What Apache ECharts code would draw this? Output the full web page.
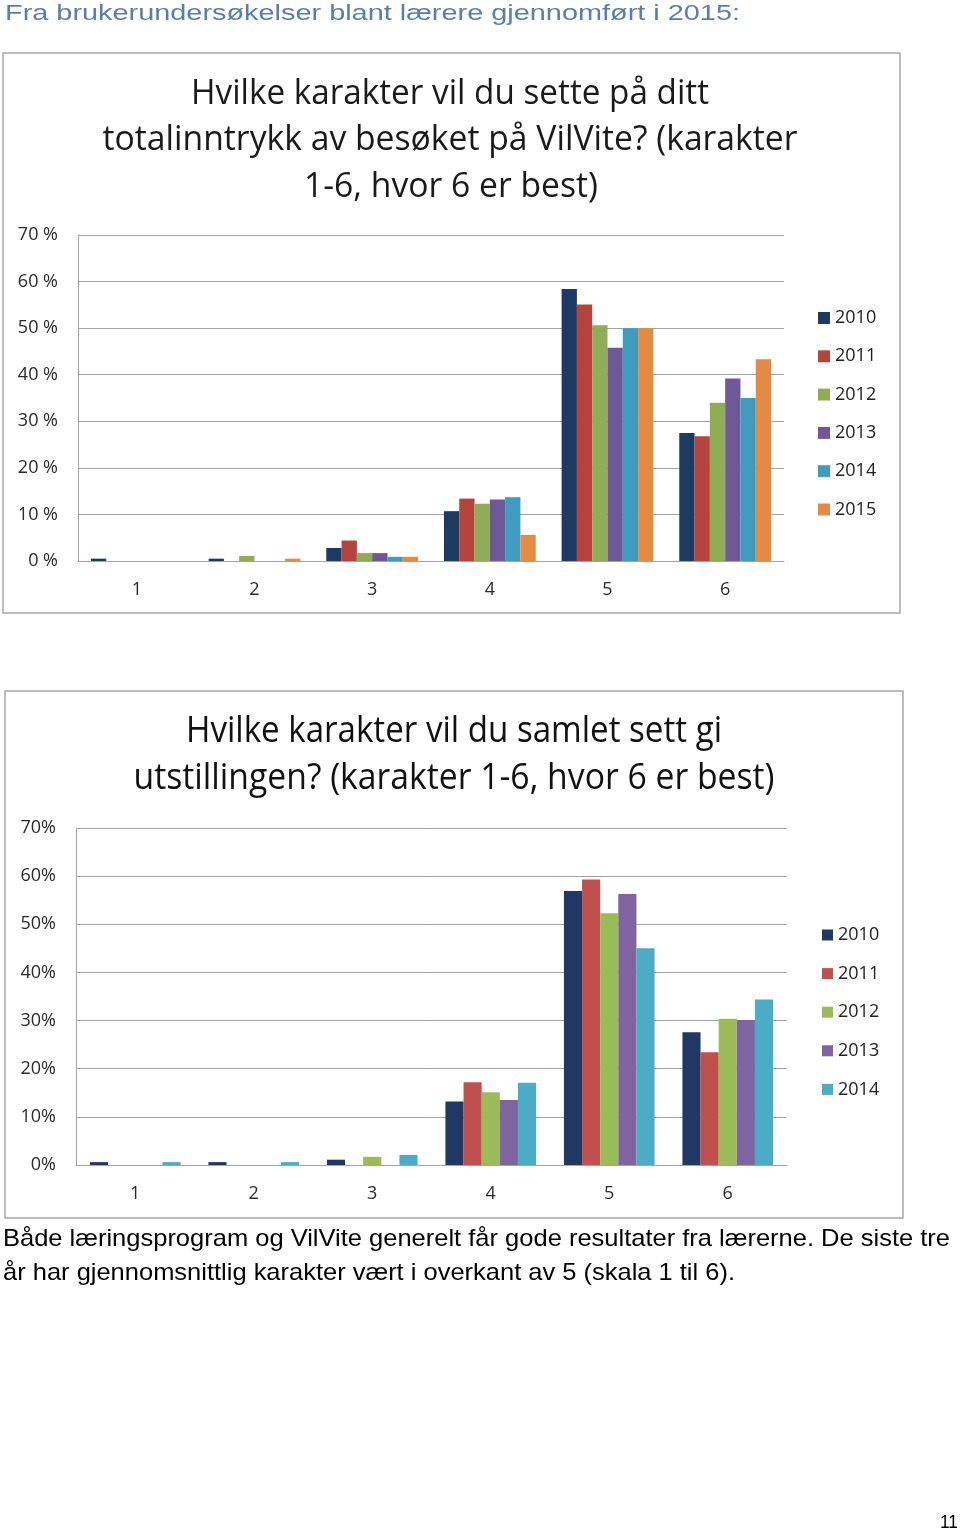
<!DOCTYPE html>
<html><head><meta charset="utf-8">
<script src="https://cdn.jsdelivr.net/npm/echarts@6/dist/echarts.min.js"></script>
<style>html,body{margin:0;padding:0;background:#fff}#c{width:960px;height:1532px}</style>
</head><body><div id="c"></div>
<script>
// ---------- data ----------
const categories = ['1', '2', '3', '4', '5', '6'];
const yTicks = [0, 10, 20, 30, 40, 50, 60, 70];

// Chart 1: totalinntrykk av besøket (per cent)
const years1 = ['2010', '2011', '2012', '2013', '2014', '2015'];
const c1_2010 = [0.5, 0.5, 2.8, 10.7, 58.4, 27.5];
const c1_2011 = [0, 0, 4.4, 13.4, 55.1, 26.8];
const c1_2012 = [0, 1.1, 1.7, 12.3, 50.6, 34.0];
const c1_2013 = [0, 0, 1.7, 13.2, 45.8, 39.2];
const c1_2014 = [0, 0, 0.9, 13.7, 50.0, 35.0];
const c1_2015 = [0, 0.5, 0.9, 5.6, 50.0, 43.3];

// Chart 2: samlet inntrykk av utstillingen (per cent)
const years2 = ['2010', '2011', '2012', '2013', '2014'];
const c2_2010 = [0.6, 0.6, 1.1, 13.2, 56.9, 27.6];
const c2_2011 = [0, 0, 0, 17.2, 59.3, 23.4];
const c2_2012 = [0, 0, 1.7, 15.1, 52.3, 30.4];
const c2_2013 = [0, 0, 0, 13.5, 56.3, 30.1];
const c2_2014 = [0.6, 0.6, 2.1, 17.1, 45.0, 34.4];

const header = 'Fra brukerundersøkelser blant lærere gjennomført i 2015:';
const title1 = ['Hvilke karakter vil du sette på ditt', 'totalinntrykk av besøket på VilVite? (karakter', '1-6, hvor 6 er best)'];
const title2 = ['Hvilke karakter vil du samlet sett gi', 'utstillingen? (karakter 1-6, hvor 6 er best)'];
const para = ['Både læringsprogram og VilVite generelt får gode resultater fra lærerne. De siste tre', 'år har gjennomsnittlig karakter vært i overkant av 5 (skala 1 til 6).'];
const pageNo = '11';

// ---------- styles ----------
const colors1 = ['#1d3a63', '#b5443f', '#90ad55', '#6f5898', '#3f9cbf', '#e48a42'];
const colors2 = ['#1f3864', '#c0504d', '#9bbb59', '#8064a2', '#4bacc6'];
const data1 = [c1_2010, c1_2011, c1_2012, c1_2013, c1_2014, c1_2015];
const data2 = [c2_2010, c2_2011, c2_2012, c2_2013, c2_2014];

const UI = "'Open Sans', 'Noto Sans', sans-serif";
const ctx = document.createElement('canvas').getContext('2d');
function fit(text, font, w) { ctx.font = font; return w / ctx.measureText(text).width; }
function txt(text, x, y, size, family, w, fill, align) {
  const font = size + 'px ' + family;
  return {
    type: 'text', x: x, y: y, scaleX: fit(text, font, w), z: 10,
    style: { text: text, font: font, fill: fill, align: align, verticalAlign: 'middle' }
  };
}

const gridLine = { lineStyle: { color: '#a3a3a3', width: 1 } };
function yAxis(gi, fmt) {
  return {
    type: 'value', gridIndex: gi, min: 0, max: 70, interval: 10,
    axisLine: { show: true, lineStyle: { color: '#a3a3a3' } },
    axisTick: { show: false },
    splitLine: gridLine,
    axisLabel: { formatter: fmt, fontFamily: UI, fontSize: 18, color: '#2a2a2a', margin: 20 }
  };
}
function xAxis(gi) {
  return {
    type: 'category', gridIndex: gi, data: categories,
    axisLine: { show: true, lineStyle: { color: '#a3a3a3' } },
    axisTick: { show: false },
    axisLabel: { fontFamily: UI, fontSize: 18, color: '#2a2a2a', margin: 20 }
  };
}

const series = [];
years1.forEach((y, i) => series.push({
  name: 'a|' + y, type: 'bar', xAxisIndex: 0, yAxisIndex: 0, data: data1[i],
  itemStyle: { color: colors1[i] }, barGap: '0%', barCategoryGap: '22%'
}));
years2.forEach((y, i) => series.push({
  name: 'b|' + y, type: 'bar', xAxisIndex: 1, yAxisIndex: 1, data: data2[i],
  itemStyle: { color: colors2[i] }, barGap: '0%', barCategoryGap: '23.5%'
}));

const legendBase = {
  orient: 'vertical', icon: 'rect', itemWidth: 12, itemHeight: 12,
  formatter: n => n.split('|')[1],
  textStyle: { fontFamily: UI, fontSize: 18, lineHeight: 18, color: '#222' },
  selectedMode: false
};

const TITLE_F = "'Open Sans', sans-serif";
const graphics = [
  { type: 'rect', shape: { x: 3, y: 53, width: 897, height: 560 }, style: { fill: '#fff', stroke: '#a8a8a8', lineWidth: 1.5 }, z: 0 },
  { type: 'rect', shape: { x: 5, y: 691, width: 898, height: 527 }, style: { fill: '#fff', stroke: '#a8a8a8', lineWidth: 1.5 }, z: 0 },
  txt(header, 5, 14, 22, "'Liberation Sans', Arial, sans-serif", 735, '#5a7eab', 'left'),
  txt(title1[0], 450, 94, 35, TITLE_F, 518, '#1a1a1a', 'center'),
  txt(title1[1], 450, 140, 35, TITLE_F, 695, '#1a1a1a', 'center'),
  txt(title1[2], 451, 187, 35, TITLE_F, 294, '#1a1a1a', 'center'),
  txt(title2[0], 454, 732, 36, TITLE_F, 536, '#111', 'center'),
  txt(title2[1], 454, 779, 36, TITLE_F, 641, '#111', 'center'),
  txt(para[0], 3, 1239, 24, "'Liberation Sans', Arial, sans-serif", 947, '#000', 'left'),
  txt(para[1], 3, 1273, 24, "'Liberation Sans', Arial, sans-serif", 732, '#000', 'left'),
  txt(pageNo, 958, 1523, 18, "'Liberation Sans', Arial, sans-serif", 18, '#000', 'right')
];

const option = {
  animation: false,
  backgroundColor: '#fff',
  grid: [
    { left: 78, right: 176, top: 235, bottom: 971 },
    { left: 76, right: 173, top: 828, bottom: 367 }
  ],
  xAxis: [xAxis(0), xAxis(1)],
  yAxis: [yAxis(0, '{value} %'), yAxis(1, '{value}%')],
  legend: [
    Object.assign({}, legendBase, { left: 813, top: 304, itemGap: 20.3, data: years1.map(y => 'a|' + y) }),
    Object.assign({}, legendBase, { left: 817, top: 921, itemWidth: 11, itemHeight: 11, itemGap: 20.6, data: years2.map(y => 'b|' + y) })
  ],
  series: series,
  graphic: graphics
};

const chart = echarts.init(document.getElementById('c'), null, { renderer: 'canvas' });
chart.setOption(option);
</script>
</body></html>
